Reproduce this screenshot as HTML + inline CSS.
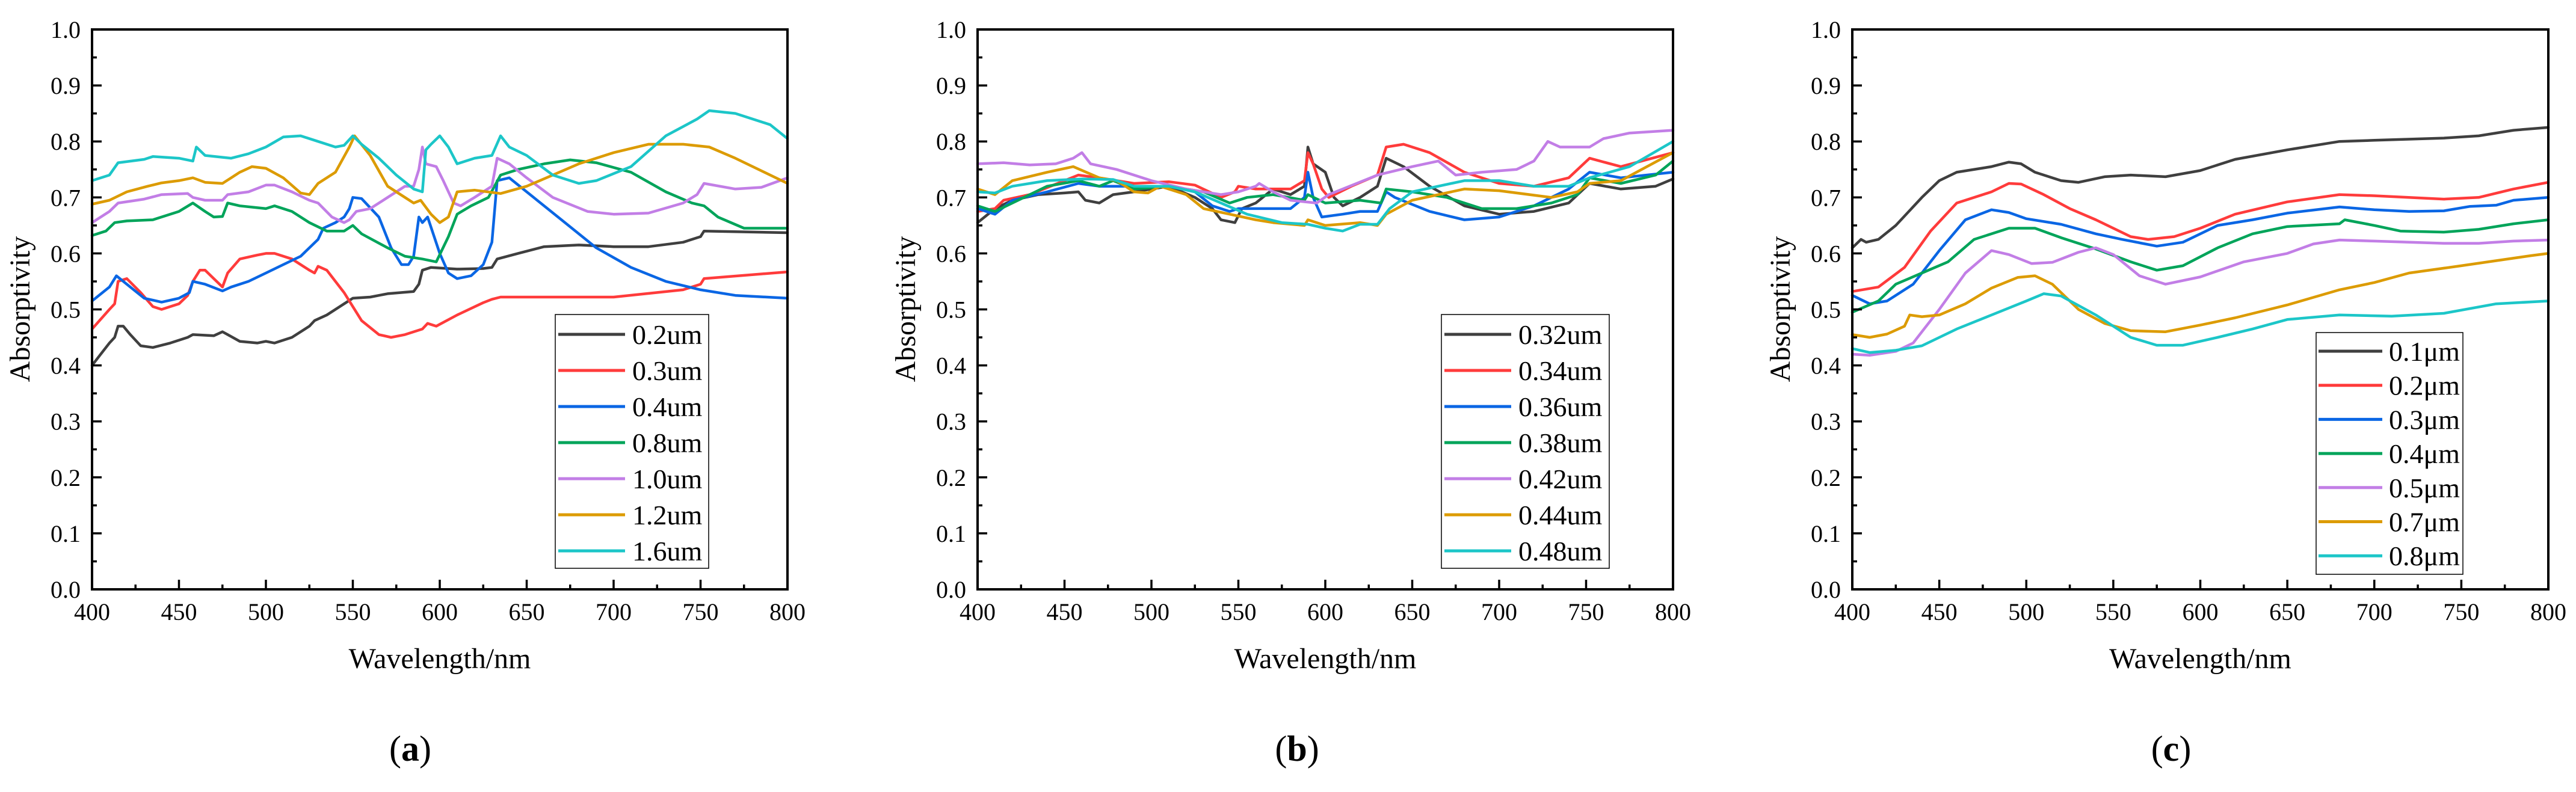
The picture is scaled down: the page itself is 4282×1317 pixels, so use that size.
<!DOCTYPE html>
<html><head><meta charset="utf-8"><style>
html,body{margin:0;padding:0;background:#fff;}
svg{display:block;font-family:"Liberation Serif",serif;}
</style></head><body>
<svg id="fig" width="4282" height="1317" viewBox="0 0 4282 1317" xmlns="http://www.w3.org/2000/svg"></svg>
<script>
// ---- data ----
const xTicks = [400,450,500,550,600,650,700,750,800];
const yTicks = [0.0,0.1,0.2,0.3,0.4,0.5,0.6,0.7,0.8,0.9,1.0];
const colors = ["#3f3f3f","#ff3b3b","#0a66e4","#00a45a","#c27ee6","#dc9b00","#1cc6c8"];

const labelsA = ["0.2um","0.3um","0.4um","0.8um","1.0um","1.2um","1.6um"];
const a02 = [[400,0.40],[405,0.42],[410,0.44],[413,0.45],[415,0.47],[418,0.47],[422,0.455],[428,0.435],[435,0.432],[445,0.44],[455,0.45],[458,0.455],[470,0.453],[475,0.46],[478,0.455],[485,0.443],[495,0.44],[500,0.443],[505,0.44],[515,0.45],[525,0.47],[528,0.48],[535,0.49],[545,0.51],[550,0.52],[560,0.522],[570,0.528],[585,0.532],[588,0.545],[590,0.57],[595,0.575],[610,0.572],[625,0.573],[630,0.575],[633,0.59],[645,0.60],[660,0.612],[680,0.615],[700,0.612],[720,0.612],[740,0.62],[750,0.63],[752,0.64],[800,0.637]];
const a03 = [[400,0.465],[410,0.50],[413,0.51],[415,0.55],[420,0.555],[428,0.53],[435,0.505],[440,0.50],[450,0.51],[455,0.525],[458,0.55],[462,0.57],[465,0.57],[470,0.555],[475,0.54],[478,0.565],[485,0.59],[495,0.597],[500,0.60],[505,0.60],[515,0.59],[525,0.57],[528,0.565],[530,0.577],[535,0.57],[545,0.53],[555,0.48],[565,0.455],[572,0.45],[580,0.455],[590,0.465],[593,0.475],[598,0.47],[610,0.49],[625,0.512],[630,0.518],[635,0.522],[650,0.522],[700,0.522],[740,0.535],[750,0.545],[752,0.555],[800,0.567]];
const a04 = [[400,0.515],[410,0.54],[414,0.56],[420,0.545],[430,0.52],[440,0.513],[450,0.52],[456,0.53],[458,0.55],[465,0.545],[475,0.533],[480,0.54],[490,0.55],[500,0.565],[510,0.58],[520,0.595],[530,0.625],[533,0.645],[540,0.655],[545,0.665],[548,0.68],[550,0.70],[555,0.698],[565,0.665],[572,0.61],[578,0.58],[582,0.58],[585,0.595],[588,0.665],[590,0.655],[593,0.665],[600,0.60],[605,0.565],[610,0.555],[618,0.56],[625,0.58],[630,0.62],[633,0.73],[640,0.735],[650,0.71],[670,0.66],[690,0.61],[710,0.575],[730,0.55],[750,0.535],[770,0.525],[800,0.52]];
const a08 = [[400,0.632],[408,0.64],[413,0.655],[420,0.658],[435,0.66],[450,0.675],[458,0.69],[465,0.675],[470,0.665],[475,0.666],[478,0.69],[485,0.685],[500,0.68],[505,0.685],[515,0.675],[525,0.655],[535,0.64],[545,0.64],[550,0.65],[555,0.635],[570,0.61],[580,0.595],[590,0.59],[598,0.585],[605,0.63],[610,0.67],[618,0.685],[628,0.70],[635,0.74],[645,0.75],[660,0.76],[675,0.767],[690,0.762],[710,0.745],[730,0.71],[745,0.69],[752,0.685],[760,0.665],[775,0.645],[800,0.645]];
const a10 = [[400,0.655],[410,0.675],[415,0.69],[430,0.697],[440,0.705],[455,0.707],[458,0.70],[465,0.695],[475,0.695],[478,0.705],[490,0.71],[500,0.722],[505,0.722],[515,0.71],[525,0.695],[530,0.69],[538,0.665],[545,0.655],[548,0.66],[552,0.675],[560,0.68],[570,0.70],[580,0.72],[585,0.72],[588,0.75],[590,0.79],[592,0.76],[598,0.755],[602,0.73],[608,0.69],[612,0.685],[620,0.70],[630,0.72],[633,0.77],[640,0.76],[650,0.735],[665,0.70],[685,0.675],[700,0.67],[720,0.672],[740,0.69],[748,0.705],[752,0.725],[770,0.715],[785,0.718],[800,0.735]];
const a12 = [[400,0.688],[410,0.695],[420,0.71],[432,0.72],[440,0.726],[450,0.73],[458,0.735],[465,0.727],[475,0.725],[485,0.745],[492,0.755],[500,0.752],[510,0.735],[520,0.708],[525,0.705],[530,0.725],[540,0.745],[548,0.79],[551,0.81],[560,0.775],[570,0.72],[580,0.70],[585,0.69],[589,0.695],[595,0.67],[600,0.655],[605,0.665],[610,0.71],[620,0.713],[635,0.707],[650,0.72],[680,0.76],[700,0.78],[720,0.795],[740,0.795],[755,0.79],[770,0.77],[800,0.725]];
const a16 = [[400,0.73],[410,0.74],[415,0.762],[430,0.768],[435,0.773],[450,0.77],[458,0.765],[460,0.79],[465,0.775],[480,0.77],[490,0.778],[500,0.79],[510,0.808],[520,0.81],[530,0.80],[540,0.79],[545,0.793],[550,0.81],[555,0.795],[565,0.77],[575,0.74],[585,0.715],[590,0.71],[592,0.785],[595,0.795],[600,0.81],[605,0.79],[610,0.76],[620,0.77],[630,0.775],[635,0.81],[640,0.79],[650,0.775],[665,0.74],[680,0.725],[690,0.73],[710,0.755],[730,0.81],[748,0.84],[755,0.855],[770,0.85],[790,0.83],[800,0.805]];

const labelsB = ["0.32um","0.34um","0.36um","0.38um","0.42um","0.44um","0.48um"];
const b32 = [[400,0.655],[410,0.68],[420,0.695],[435,0.705],[450,0.708],[458,0.71],[462,0.695],[470,0.69],[478,0.705],[490,0.71],[510,0.72],[525,0.70],[535,0.68],[540,0.66],[548,0.655],[552,0.68],[560,0.69],[570,0.715],[580,0.705],[588,0.72],[590,0.79],[593,0.76],[600,0.745],[605,0.70],[610,0.685],[620,0.70],[630,0.72],[635,0.77],[645,0.755],[660,0.72],[680,0.685],[700,0.67],[720,0.675],[740,0.69],[752,0.725],[770,0.715],[790,0.72],[800,0.733]];
const b34 = [[400,0.675],[410,0.68],[415,0.695],[430,0.705],[450,0.73],[458,0.74],[470,0.735],[490,0.725],[510,0.728],[525,0.722],[540,0.70],[548,0.71],[550,0.72],[560,0.715],[580,0.715],[588,0.73],[590,0.78],[593,0.76],[598,0.715],[602,0.70],[615,0.72],[630,0.74],[635,0.79],[645,0.795],[660,0.78],[680,0.745],[700,0.725],[720,0.72],[740,0.735],[752,0.77],[770,0.755],[800,0.78]];
const b36 = [[400,0.68],[410,0.67],[420,0.695],[440,0.71],[458,0.725],[470,0.72],[490,0.72],[510,0.72],[525,0.71],[535,0.685],[545,0.675],[550,0.68],[580,0.68],[588,0.70],[590,0.745],[593,0.70],[598,0.665],[610,0.67],[620,0.675],[630,0.675],[635,0.71],[640,0.70],[660,0.675],[680,0.66],[700,0.665],[720,0.685],[740,0.715],[752,0.745],[770,0.735],[800,0.745]];
const b38 = [[400,0.685],[410,0.675],[420,0.69],[440,0.72],[458,0.73],[470,0.72],[478,0.73],[490,0.715],[510,0.72],[530,0.71],[545,0.69],[555,0.70],[570,0.705],[588,0.695],[590,0.705],[600,0.69],[620,0.695],[632,0.69],[635,0.715],[650,0.71],[670,0.70],[690,0.68],[710,0.68],[730,0.69],[745,0.705],[752,0.735],[770,0.725],[790,0.74],[800,0.765]];
const b42 = [[400,0.76],[415,0.762],[430,0.758],[445,0.76],[455,0.77],[460,0.78],[465,0.76],[480,0.75],[500,0.73],[520,0.715],[540,0.705],[550,0.71],[560,0.72],[562,0.725],[570,0.71],[580,0.695],[595,0.69],[602,0.705],[610,0.715],[630,0.74],[650,0.755],[665,0.765],[675,0.74],[690,0.745],[710,0.75],[720,0.765],[728,0.80],[735,0.79],[752,0.79],[760,0.805],[775,0.815],[800,0.82]];
const b44 = [[400,0.715],[410,0.705],[420,0.73],[440,0.745],[455,0.755],[470,0.735],[480,0.73],[490,0.71],[498,0.708],[505,0.72],[520,0.705],[530,0.68],[545,0.67],[560,0.66],[570,0.655],[588,0.65],[590,0.66],[600,0.65],[620,0.655],[630,0.65],[635,0.67],[650,0.695],[680,0.715],[700,0.712],[730,0.70],[745,0.71],[752,0.725],[770,0.73],[800,0.78]];
const b48 = [[400,0.71],[410,0.708],[420,0.72],[440,0.73],[460,0.733],[478,0.732],[490,0.72],[510,0.72],[525,0.71],[540,0.69],[555,0.67],[575,0.655],[590,0.652],[600,0.645],[610,0.64],[620,0.652],[630,0.652],[637,0.68],[650,0.71],[680,0.73],[700,0.73],[720,0.72],[740,0.72],[752,0.735],[775,0.755],[800,0.80]];

const labelsC = ["0.1\u03bcm","0.2\u03bcm","0.3\u03bcm","0.4\u03bcm","0.5\u03bcm","0.7\u03bcm","0.8\u03bcm"];
const c01 = [[400,0.61],[405,0.625],[408,0.62],[415,0.625],[425,0.65],[440,0.70],[450,0.73],[460,0.745],[480,0.755],[490,0.763],[497,0.76],[505,0.745],[520,0.73],[530,0.727],[545,0.737],[560,0.74],[580,0.737],[600,0.748],[620,0.768],[650,0.785],[680,0.80],[700,0.802],[740,0.806],[760,0.81],[780,0.82],[800,0.825]];
const c02 = [[400,0.532],[415,0.54],[430,0.575],[445,0.64],[460,0.69],[480,0.71],[490,0.725],[497,0.724],[510,0.705],[525,0.68],[540,0.66],[560,0.63],[570,0.625],[585,0.63],[600,0.645],[620,0.67],[650,0.692],[680,0.705],[700,0.703],[740,0.697],[760,0.70],[780,0.715],[800,0.727]];
const c03 = [[400,0.525],[410,0.51],[420,0.515],[435,0.545],[450,0.605],[465,0.66],[480,0.678],[490,0.673],[500,0.662],[520,0.652],[540,0.635],[555,0.625],[575,0.613],[590,0.62],[610,0.65],[630,0.66],[650,0.672],[680,0.683],[700,0.678],[720,0.675],[740,0.676],[755,0.684],[770,0.686],[780,0.695],[800,0.70]];
const c04 = [[400,0.495],[415,0.515],[425,0.545],[440,0.565],[455,0.585],[470,0.625],[490,0.645],[505,0.645],[520,0.628],[540,0.608],[560,0.585],[575,0.57],[590,0.578],[610,0.61],[630,0.635],[650,0.648],[680,0.653],[683,0.66],[700,0.65],[715,0.64],[740,0.638],[760,0.643],[780,0.653],[800,0.66]];
const c05 = [[400,0.42],[410,0.418],[425,0.425],[435,0.44],[450,0.50],[465,0.565],[480,0.605],[490,0.598],[503,0.582],[515,0.584],[530,0.602],[540,0.61],[550,0.598],[565,0.56],[580,0.545],[600,0.558],[625,0.585],[650,0.60],[665,0.617],[680,0.624],[700,0.622],[740,0.618],[760,0.618],[780,0.622],[800,0.624]];
const c07 = [[400,0.455],[410,0.45],[420,0.456],[430,0.47],[433,0.49],[440,0.487],[450,0.49],[465,0.51],[480,0.538],[495,0.557],[505,0.56],[515,0.545],[530,0.50],[545,0.475],[560,0.462],[580,0.46],[600,0.472],[620,0.485],[650,0.508],[680,0.535],[700,0.548],[720,0.565],[750,0.578],[770,0.587],[790,0.596],[800,0.60]];
const c08 = [[400,0.43],[410,0.423],[425,0.427],[440,0.435],[460,0.465],[480,0.49],[500,0.515],[510,0.528],[520,0.524],[540,0.49],[560,0.45],[575,0.436],[590,0.436],[610,0.45],[630,0.465],[650,0.482],[680,0.49],[710,0.488],[740,0.493],[770,0.51],[800,0.515]];

// ---- drawing ----
const NS="http://www.w3.org/2000/svg";
const svg=document.getElementById('fig');
function mk(tag,parent){const e=document.createElementNS(NS,tag);parent.appendChild(e);return e;}

const panels=[
 {id:'a',L:153,R:1309,T:49,B:980,series:[a02,a03,a04,a08,a10,a12,a16],labels:labelsA,leg:{x:923,y:523,w:255,h:422,row0:556,step:60,lx1:928,lx2:1039,tx:1051},cap:{x:682,t:'a'}},
 {id:'b',L:1625,R:2781,T:49,B:980,series:[b32,b34,b36,b38,b42,b44,b48],labels:labelsB,leg:{x:2396,y:523,w:279,h:422,row0:556,step:60,lx1:2401,lx2:2512,tx:2524},cap:{x:2156,t:'b'}},
 {id:'c',L:3079,R:4236,T:49,B:980,series:[c01,c02,c03,c04,c05,c07,c08],labels:labelsC,leg:{x:3850,y:553,w:244,h:402,row0:584,step:56.7,lx1:3854,lx2:3960,tx:3971},cap:{x:3609,t:'c'}}
];

panels.forEach(p=>{
  const g=mk('g',svg);
  
  
  const xs=v=>p.L+(v-400)/400*(p.R-p.L);
  const ys=v=>p.B-v*(p.B-p.T);
  // series
  const sg=mk('g',g);
  
  
  p.series.forEach((s,i)=>{
    const pl=mk('polyline',sg);
    
    
    pl.setAttribute('points',s.map(d=>xs(d[0]).toFixed(1)+','+ys(d[1]).toFixed(1)).join(' '));
    pl.setAttribute('fill','none');pl.setAttribute('stroke',colors[i]);
    pl.setAttribute('stroke-width','4.5');pl.setAttribute('stroke-linejoin','round');pl.setAttribute('stroke-linecap','round');
  });
  // frame
  const fr=mk('rect',g);
  
  
  fr.setAttribute('x',p.L);fr.setAttribute('y',p.T);fr.setAttribute('width',p.R-p.L);fr.setAttribute('height',p.B-p.T);
  fr.setAttribute('fill','none');fr.setAttribute('stroke','#000');fr.setAttribute('stroke-width','4');
  // ticks
  let td='';
  for(let v=400;v<=800;v+=25){const x=xs(v);const len=(v%50===0)?16:8;td+=`M${x},${p.B}V${p.B-len}`;}
  for(let k=0;k<=20;k++){const y=ys(k*0.05);const len=(k%2===0)?16:8;td+=`M${p.L},${y}H${p.L+len}`;}
  const tp=mk('path',g);
  
  
  tp.setAttribute('d',td);tp.setAttribute('stroke','#000');tp.setAttribute('stroke-width','3.5');
  xTicks.forEach(v=>{
    const t=mk('text',g);
    
    
    t.setAttribute('x',xs(v));t.setAttribute('y',p.B+51);t.setAttribute('text-anchor','middle');t.setAttribute('font-size','40');
    t.textContent=String(v);
  });
  yTicks.forEach(v=>{
    const t=mk('text',g);
    
    
    t.setAttribute('x',p.L-19);t.setAttribute('y',ys(v)+14);t.setAttribute('text-anchor','end');t.setAttribute('font-size','40');
    t.textContent=v.toFixed(1);
  });
  const xt=mk('text',g);
  
  
  xt.setAttribute('x',(p.L+p.R)/2);xt.setAttribute('y',1111);xt.setAttribute('text-anchor','middle');xt.setAttribute('font-size','48');
  xt.textContent='Wavelength/nm';
  const yt=mk('text',g);
  
  
  const ycx=p.L-104;
  yt.setAttribute('transform',`translate(${ycx},514) rotate(-90)`);yt.setAttribute('text-anchor','middle');yt.setAttribute('font-size','48');
  yt.textContent='Absorptivity';
  // legend
  const lg=mk('g',g);
  
  
  const lb=mk('rect',lg);
  
  
  lb.setAttribute('x',p.leg.x);lb.setAttribute('y',p.leg.y);lb.setAttribute('width',p.leg.w);lb.setAttribute('height',p.leg.h);
  lb.setAttribute('fill','#fff');lb.setAttribute('stroke','#000');lb.setAttribute('stroke-width','1.5');
  p.labels.forEach((lab,i)=>{
    const cy=p.leg.row0+i*p.leg.step;
    const ln=mk('line',lg);
    
    
    ln.setAttribute('x1',p.leg.lx1);ln.setAttribute('x2',p.leg.lx2);ln.setAttribute('y1',cy);ln.setAttribute('y2',cy);
    ln.setAttribute('stroke',colors[i]);ln.setAttribute('stroke-width','5');
    const lt=mk('text',lg);
    
    
    lt.setAttribute('x',p.leg.tx);lt.setAttribute('y',cy+16);lt.setAttribute('font-size','46');
    lt.textContent=lab;
  });
  // caption
  const cp=mk('text',svg);
  
  
  cp.setAttribute('x',p.cap.x);cp.setAttribute('y',1265);cp.setAttribute('text-anchor','middle');cp.setAttribute('font-size','60');
  cp.innerHTML='(<tspan font-weight="bold">'+p.cap.t+'</tspan>)';
});
</script>
</body></html>
